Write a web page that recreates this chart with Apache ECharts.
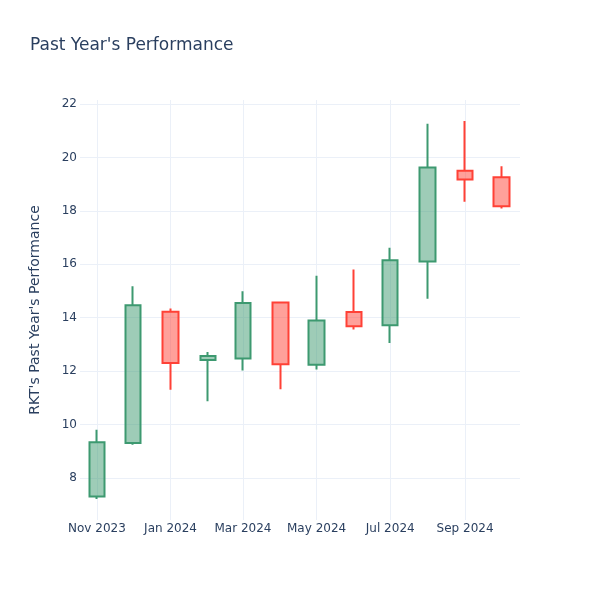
<!DOCTYPE html>
<html><head><meta charset="utf-8">
<script src="https://cdn.jsdelivr.net/npm/echarts@6/dist/echarts.min.js"></script>
<style>html,body{margin:0;padding:0;background:#fff}#c{width:600px;height:600px}</style>
</head><body><div id="c"></div>
<script>
const dates = ['2023-11-01','2023-12-01','2024-01-01','2024-02-01','2024-03-01','2024-04-01',
               '2024-05-01','2024-06-01','2024-07-01','2024-08-01','2024-09-01','2024-10-01'];
const opens  = [7.30, 9.30, 14.22, 12.41, 12.47, 14.57, 12.23, 14.21, 13.71, 16.10, 19.50, 19.26];
const closes = [9.33, 14.46, 12.30, 12.56, 14.55, 12.25, 13.89, 13.68, 16.15, 19.62, 19.17, 18.17];
const lows   = [7.21, 9.24, 11.30, 10.87, 12.02, 11.32, 12.06, 13.55, 13.05, 14.71, 18.34, 18.09];
const highs  = [9.80, 15.17, 14.34, 12.71, 14.99, 14.57, 15.57, 15.80, 16.62, 21.26, 21.36, 19.67];
const xTicks = ['2023-11-01','2024-01-01','2024-03-01','2024-05-01','2024-07-01','2024-09-01'];
const yTicks = [8, 10, 12, 14, 16, 18, 20, 22];
const monthNames = ['Jan','Feb','Mar','Apr','May','Jun','Jul','Aug','Sep','Oct','Nov','Dec'];

function ts(s) { return new Date(s.length === 10 ? s + 'T00:00:00' : s).getTime(); }

const font = 'DejaVu Sans, Verdana, sans-serif';
const txt = '#2a3f5f';
const chart = echarts.init(document.getElementById('c'), null, {renderer: 'canvas'});
chart.setOption({
  animation: false,
  backgroundColor: '#fff',
  title: {
    text: "Past Year's Performance",
    left: 30, top: 37, padding: 0,
    textStyle: {fontFamily: font, fontSize: 17, fontWeight: 'normal', color: txt}
  },
  grid: {left: 80, right: 80, top: 100, bottom: 80, containLabel: false},
  xAxis: {
    type: 'value',
    min: ts('2023-10-18T00:00:00'),
    max: ts('2024-10-16T12:00:00'),
    axisLine: {show: false},
    axisTick: {show: false, customValues: xTicks.map(ts)},
    axisLabel: {
      customValues: xTicks.map(ts),
      margin: 3,
      fontFamily: font, fontSize: 12, color: txt,
      formatter: function (v) { const d = new Date(v); return monthNames[d.getMonth()] + ' ' + d.getFullYear(); }
    },
    splitLine: {show: true, lineStyle: {color: '#EBF0F8', width: 1}}
  },
  yAxis: {
    type: 'value',
    min: 6.42, max: 22.15,
    name: "RKT's Past Year's Performance",
    nameLocation: 'middle',
    nameGap: 38,
    nameTextStyle: {fontFamily: font, fontSize: 14, color: txt},
    axisLine: {show: false},
    axisTick: {show: false, customValues: yTicks},
    axisLabel: {customValues: yTicks, margin: 3, fontFamily: font, fontSize: 12, color: txt},
    splitLine: {show: true, lineStyle: {color: '#EBF0F8', width: 1}}
  },
  series: [{
    type: 'candlestick',
    barWidth: 16,
    encode: {x: 0, y: [1, 2, 3, 4]},
    data: dates.map((d, i) => [ts(d), opens[i], closes[i], lows[i], highs[i]]),
    itemStyle: {
      color: 'rgba(61,153,112,0.5)',
      color0: 'rgba(255,65,54,0.5)',
      borderColor: '#3D9970',
      borderColor0: '#FF4136',
      borderWidth: 2
    }
  }]
});
</script></body></html>
